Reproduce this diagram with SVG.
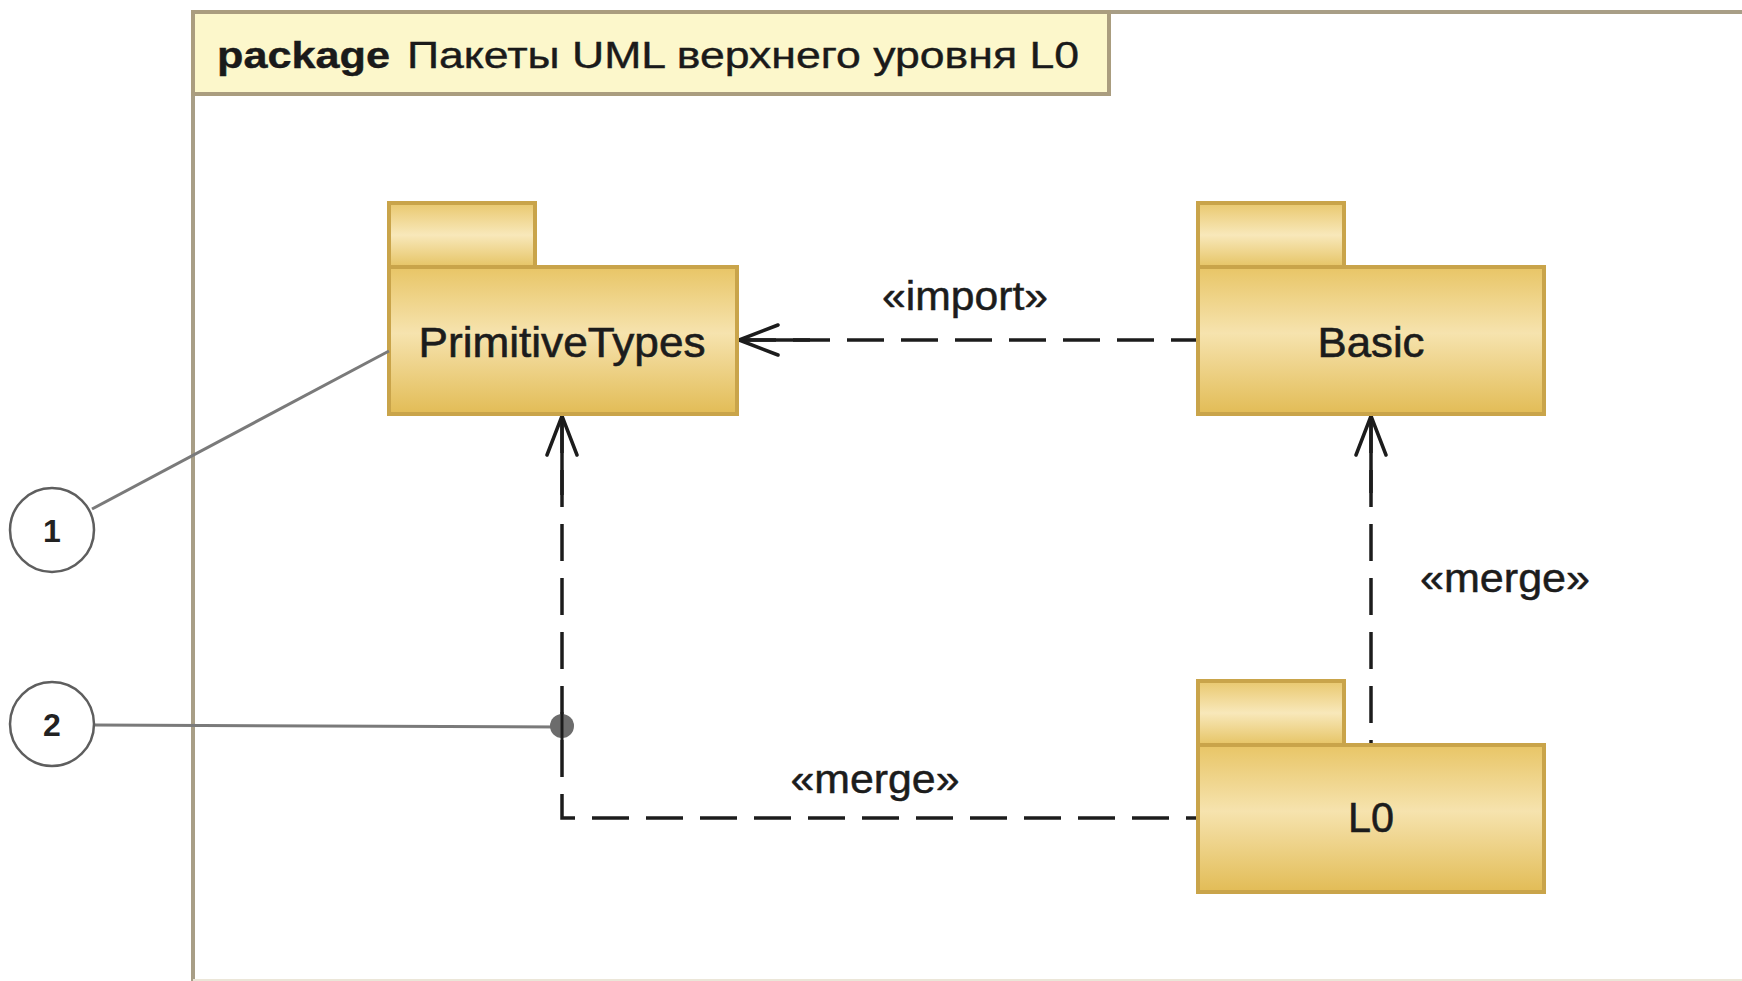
<svg xmlns="http://www.w3.org/2000/svg" width="1742" height="981" viewBox="0 0 1742 981">
  <defs>
    <linearGradient id="pkgBody" x1="0" y1="0" x2="0" y2="1">
      <stop offset="0" stop-color="#e8c566"/>
      <stop offset="0.45" stop-color="#f6e3ae"/>
      <stop offset="1" stop-color="#e2bc56"/>
    </linearGradient>
    <linearGradient id="pkgTab" x1="0" y1="0" x2="0" y2="1">
      <stop offset="0" stop-color="#e9c86e"/>
      <stop offset="0.5" stop-color="#f8e8ba"/>
      <stop offset="1" stop-color="#e6c465"/>
    </linearGradient>
    <!-- open arrowhead, placed at the start of each path (the target end) -->
    <marker id="openArrow" markerUnits="userSpaceOnUse" markerWidth="46" markerHeight="36" viewBox="0 0 46 36" refX="43" refY="18" orient="auto-start-reverse">
      <path d="M4,3 L43,18 L4,33" fill="none" stroke="#1c1c1c" stroke-width="3.5" stroke-dasharray="none" stroke-linecap="round" stroke-linejoin="miter"/>
    </marker>
    <style>
      .frame { fill: #ffffff; stroke: #a89e86; stroke-width: 4; }
      .frameTab { fill: #fcf7cb; stroke: #aa9d7f; stroke-width: 4; }
      .title { font-family: "Liberation Sans", Arial, sans-serif; font-size: 36px; fill: #1a1a1a; stroke: #1a1a1a; stroke-width: 0.4; }
      .tab { fill: url(#pkgTab); stroke: #c9a44a; stroke-width: 4; }
      .body { fill: url(#pkgBody); stroke: #c9a44a; stroke-width: 4; }
      .pkgLabel { font-family: "Liberation Sans", Arial, sans-serif; font-size: 42px; fill: #1c1c1c; stroke: #1c1c1c; stroke-width: 0.6; text-anchor: middle; }
      .dep { fill: none; stroke: #1c1c1c; stroke-width: 3.5; stroke-dasharray: 37 17; }
      .solid { fill: none; stroke: #1c1c1c; stroke-width: 3.5; }
      .stereo { font-family: "Liberation Sans", Arial, sans-serif; font-size: 40px; fill: #1c1c1c; stroke: #1c1c1c; stroke-width: 0.5; text-anchor: middle; }
      .callout { fill: none; stroke: #7a7a7a; stroke-width: 3; }
      .badge { fill: #ffffff; stroke: #5e5e5e; stroke-width: 2.5; }
      .badgeNum { font-family: "Liberation Sans", Arial, sans-serif; font-size: 32px; font-weight: bold; fill: #222222; text-anchor: middle; }
    </style>
  </defs>

  <rect width="1742" height="981" fill="#ffffff"/>

  <!-- package frame (runs past the right and bottom edges) -->
  <g id="frame">
    <rect class="frame" x="193" y="12" width="1600" height="1000"/>
    <line x1="193" y1="980" x2="1742" y2="980" stroke="#ebe6d8" stroke-width="2"/>
    <rect class="frameTab" x="193" y="12" width="916" height="82"/>
    <text class="title" x="217" y="68" font-weight="bold" textLength="173" lengthAdjust="spacingAndGlyphs">package</text>
    <text class="title" x="407" y="68" textLength="672" lengthAdjust="spacingAndGlyphs">Пакеты UML верхнего уровня L0</text>
  </g>

  <!-- dependencies -->
  <g id="connectors">
    <!-- Basic imports PrimitiveTypes -->
    <path class="dep" d="M739,340 H1197" marker-start="url(#openArrow)"/>
    <path class="solid" d="M739,340 H810"/>
    <text class="stereo" x="965" y="310" textLength="166" lengthAdjust="spacingAndGlyphs">«import»</text>

    <!-- L0 merges Basic -->
    <path class="dep" d="M1371,416 V745" marker-start="url(#openArrow)"/>
    <path class="solid" d="M1371,416 V493"/>
    <text class="stereo" x="1505" y="592" textLength="170" lengthAdjust="spacingAndGlyphs">«merge»</text>

    <!-- L0 merges PrimitiveTypes -->
    <path class="dep" d="M562,416 V818 H1198" marker-start="url(#openArrow)"/>
    <path class="solid" d="M562,416 V495"/>
    <text class="stereo" x="875" y="793" textLength="169" lengthAdjust="spacingAndGlyphs">«merge»</text>
  </g>

  <!-- packages -->
  <g id="pkg-primitivetypes">
    <rect class="tab" x="389" y="203" width="146" height="64"/>
    <rect class="body" x="389" y="267" width="348" height="147"/>
    <text class="pkgLabel" x="562" y="357" textLength="287" lengthAdjust="spacingAndGlyphs">PrimitiveTypes</text>
  </g>
  <g id="pkg-basic">
    <rect class="tab" x="1198" y="203" width="146" height="64"/>
    <rect class="body" x="1198" y="267" width="346" height="147"/>
    <text class="pkgLabel" x="1371" y="357" textLength="107" lengthAdjust="spacingAndGlyphs">Basic</text>
  </g>
  <g id="pkg-l0">
    <rect class="tab" x="1198" y="681" width="146" height="64"/>
    <rect class="body" x="1198" y="745" width="346" height="147"/>
    <text class="pkgLabel" x="1371" y="832" textLength="46" lengthAdjust="spacingAndGlyphs">L0</text>
  </g>

  <!-- numbered callouts -->
  <g id="callout-1">
    <line class="callout" x1="92" y1="509" x2="389" y2="351"/>
    <circle class="badge" cx="52" cy="530" r="42"/>
    <text class="badgeNum" x="52" y="542">1</text>
  </g>
  <g id="callout-2">
    <line class="callout" x1="94" y1="725" x2="562" y2="727"/>
    <circle cx="562" cy="726" r="12" fill="#6c6c6c"/>
    <line x1="562" y1="712" x2="562" y2="740" stroke="#1c1c1c" stroke-width="3"/>
    <circle class="badge" cx="52" cy="724" r="42"/>
    <text class="badgeNum" x="52" y="736">2</text>
  </g>
</svg>
